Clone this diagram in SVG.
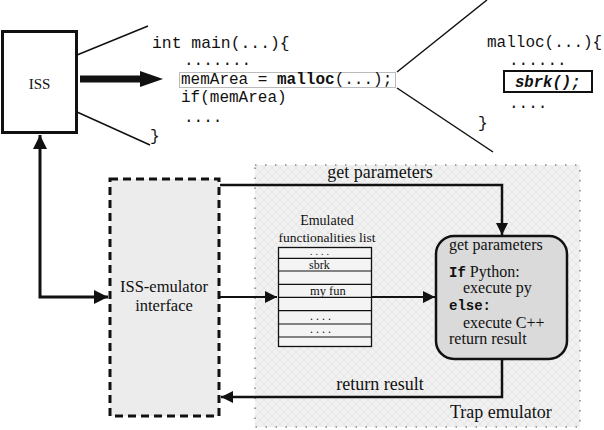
<svg xmlns="http://www.w3.org/2000/svg" width="604" height="430" viewBox="0 0 604 430">
<defs>
<style>
.serif{font-family:"Liberation Serif","Times New Roman",serif;fill:#111}
.mono{font-family:"Liberation Mono","Courier New",monospace;fill:#111}
.ln{fill:none;stroke:#111}
.dots{letter-spacing:3px}
</style>
<pattern id="hatch" width="8" height="8" patternUnits="userSpaceOnUse">
<rect width="8" height="8" fill="#f1f1f1"/>
<path d="M0 0L8 8M8 0L0 8" stroke="#dedede" stroke-width="0.6"/>
</pattern>
<marker id="ah" viewBox="0 0 10 10" refX="10" refY="5" markerWidth="14" markerHeight="12" markerUnits="userSpaceOnUse" orient="auto">
<path d="M0 0L10 5L0 10Z" fill="#111"/>
</marker>
<marker id="ahL" viewBox="0 0 10 10" refX="10" refY="5" markerWidth="17" markerHeight="14" markerUnits="userSpaceOnUse" orient="auto-start-reverse">
<path d="M0 0L10 5L0 10Z" fill="#111"/>
</marker>
</defs>
<rect width="604" height="430" fill="#fff"/>

<g id="trap-emulator">
<rect x="255" y="165" width="325" height="262" fill="url(#hatch)" stroke="#888" stroke-width="1.5" stroke-dasharray="1.5 8.5"/>
<text class="serif" x="450" y="418" font-size="18">Trap emulator</text>
</g>

<g id="iss">
<rect x="2.5" y="31.5" width="74" height="101" fill="#fff" stroke="#111" stroke-width="3"/>
<text class="serif" x="39.5" y="89" font-size="15" text-anchor="middle">ISS</text>
</g>

<g id="main-code">
<line class="ln" x1="77" y1="55" x2="148" y2="26" stroke-width="1.5"/>
<line class="ln" x1="77" y1="112" x2="150" y2="145" stroke-width="1.5"/>
<text class="mono" x="152" y="48" font-size="16.4">int main(...){</text>
<text class="mono" x="184" y="65" font-size="16">.......</text>
<rect x="179.5" y="72.5" width="216" height="15" fill="#fff" stroke="#bbb" stroke-width="1"/>
<text class="mono" x="181" y="84" font-size="16">memArea = <tspan font-weight="bold">malloc</tspan>(...);</text>
<text class="mono" x="181" y="102" font-size="16">if(memArea)</text>
<text class="mono" x="184" y="122" font-size="16">....</text>
<text class="mono" x="150" y="141" font-size="16">}</text>
</g>

<g id="malloc-code">
<line class="ln" x1="397" y1="72" x2="487" y2="0" stroke-width="1.5"/>
<line class="ln" x1="397" y1="88" x2="493" y2="152" stroke-width="1.5"/>
<text class="mono" x="487" y="47" font-size="16">malloc(...){</text>
<text class="mono" x="509" y="65" font-size="16">......</text>
<rect x="504" y="71" width="88" height="21" fill="#fff" stroke="#111" stroke-width="2"/>
<text class="mono" x="515" y="87" font-size="15.6" font-weight="bold" font-style="italic">sbrk();</text>
<text class="mono" x="509" y="108" font-size="16">....</text>
<text class="mono" x="478" y="128" font-size="16">}</text>
</g>

<g id="iss-emulator-interface">
<rect x="110" y="179" width="109" height="237" fill="#ececec" stroke="#111" stroke-width="3" stroke-dasharray="8 5"/>
<text class="serif" x="164" y="292" font-size="16.5" text-anchor="middle">ISS-emulator</text>
<text class="serif" x="164" y="311" font-size="16.5" text-anchor="middle">interface</text>
</g>

<g id="functionalities-list">
<text class="serif" x="327" y="225" font-size="14" text-anchor="middle">Emulated</text>
<text class="serif" x="327" y="242" font-size="13.5" text-anchor="middle">functionalities list</text>
<rect x="278.5" y="247.5" width="93" height="99" fill="#f4f4f4" stroke="#111" stroke-width="1.3"/>
<path class="ln" stroke-width="1.2" d="M278.5 258.3H371.5M278.5 271H371.5M278.5 284.3H371.5M278.5 297.3H371.5M278.5 310.7H371.5M278.5 324H371.5M278.5 337H371.5"/>
<text class="serif dots" x="310" y="255" font-size="10">....</text>
<text class="serif" x="309" y="269" font-size="12">sbrk</text>
<text class="serif" x="310" y="295" font-size="12.5">my fun</text>
<text class="serif dots" x="310" y="320" font-size="12">....</text>
<text class="serif dots" x="310" y="333" font-size="12">....</text>
</g>

<g id="handler">
<rect x="436" y="236" width="131" height="123" rx="18" ry="18" fill="#dadada" stroke="#111" stroke-width="2.5"/>
<text class="serif" x="449" y="250" font-size="16">get parameters</text>
<text class="serif" x="449" y="277" font-size="16"><tspan class="mono" font-weight="bold" font-size="14">If</tspan> Python:</text>
<text class="serif" x="463" y="293" font-size="16">execute py</text>
<text class="mono" x="449" y="310" font-size="14" font-weight="bold">else:</text>
<text class="serif" x="463" y="328" font-size="16">execute C++</text>
<text class="serif" x="449" y="344" font-size="16">return result</text>
</g>

<g id="connectors">
<polygon points="80,75.5 140,75.5 140,71 163,79 140,87 140,82.5 80,82.5" fill="#111"/>
<path class="ln" stroke-width="3" d="M40 135V297H108" marker-start="url(#ahL)" marker-end="url(#ahL)"/>
<path class="ln" stroke-width="2.5" d="M220 185H502V235" marker-end="url(#ah)"/>
<text class="serif" x="380" y="178" font-size="18" text-anchor="middle">get parameters</text>
<path class="ln" stroke-width="2" d="M220 297H277" marker-end="url(#ah)"/>
<path class="ln" stroke-width="2" d="M372 297H435" marker-end="url(#ah)"/>
<path class="ln" stroke-width="2.5" d="M502 360V397H221" marker-end="url(#ah)"/>
<text class="serif" x="380" y="390" font-size="18" text-anchor="middle">return result</text>
</g>
</svg>
